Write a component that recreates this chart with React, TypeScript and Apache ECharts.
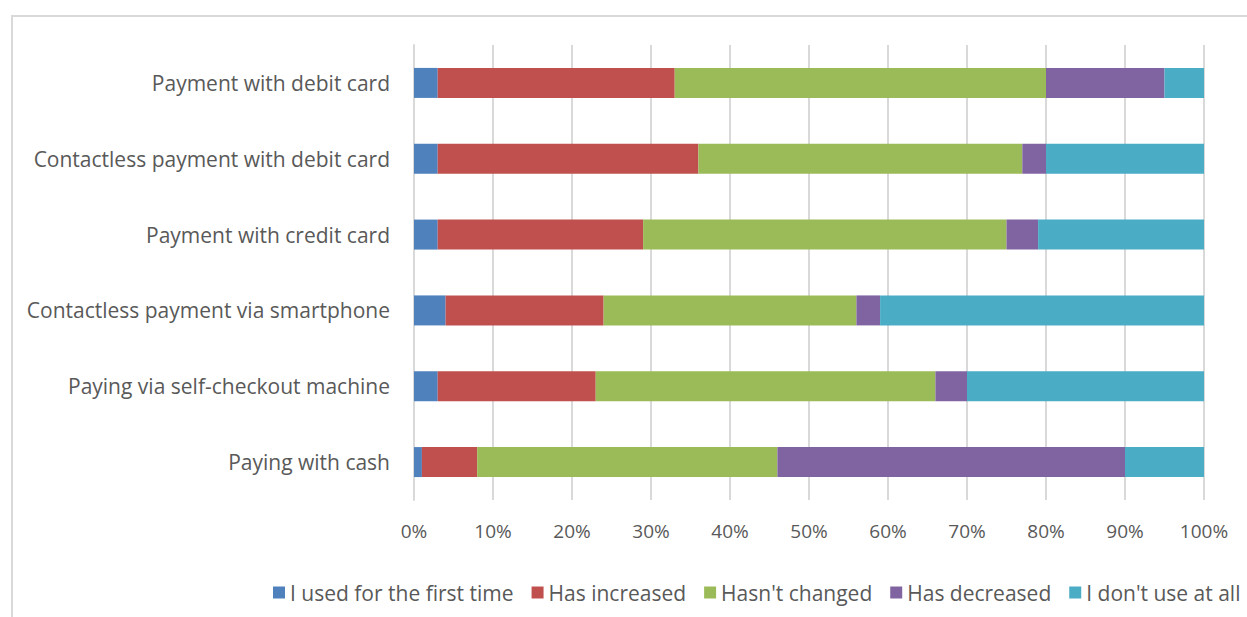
import React, { useEffect, useRef } from "react";
import * as echarts from "echarts";

const categories = [
  "Paying with cash",
  "Paying via self-checkout machine",
  "Contactless payment via smartphone",
  "Payment with credit card",
  "Contactless payment with debit card",
  "Payment with debit card",
];
const seriesNames = [
  "I used for the first time",
  "Has increased",
  "Hasn't changed",
  "Has decreased",
  "I don't use at all",
];
const firstTime = [1, 3, 4, 3, 3, 3];
const increased = [7, 20, 20, 26, 33, 30];
const unchanged = [38, 43, 32, 46, 41, 47];
const decreased = [44, 4, 3, 4, 3, 15];
const notUsed = [10, 30, 41, 21, 20, 5];
const colors = ["#4f81bd", "#c0504d", "#9bbb59", "#8064a2", "#4bacc6"];

export default function App() {
  const ref = useRef<HTMLDivElement>(null);
  useEffect(() => {
    const chart = echarts.init(ref.current!, null, { renderer: "svg" });
    const all = [firstTime, increased, unchanged, decreased, notUsed];
    const font = "'Open Sans', sans-serif";
    chart.setOption({
      animation: false,
      color: colors,
      textStyle: { fontFamily: font },
      graphic: [
        {
          type: "rect",
          shape: { x: 12, y: 16, width: 1250, height: 620 },
          style: { fill: "none", stroke: "#d9d9d9", lineWidth: 2 },
          silent: true,
        },
      ],
      grid: { left: 414, right: 43, top: 45, bottom: 117, containLabel: false },
      xAxis: {
        type: "value",
        min: 0,
        max: 100,
        interval: 10,
        axisLabel: {
          formatter: "{value}%",
          color: "#595959",
          fontSize: 19,
          fontFamily: font,
          margin: 21,
        },
        axisLine: { show: false },
        axisTick: { show: false },
        splitLine: { lineStyle: { color: "#d9d9d9", width: 2 } },
      },
      yAxis: {
        type: "category",
        data: categories,
        axisLabel: { color: "#595959", fontSize: 21, fontFamily: font, margin: 24 },
        axisLine: { show: true, lineStyle: { color: "#d9d9d9", width: 2 } },
        axisTick: { show: false },
      },
      legend: {
        left: 268,
        top: 577,
        itemWidth: 12,
        itemHeight: 12,
        itemGap: 18,
        icon: "rect",
        textStyle: { color: "#595959", fontSize: 21, fontFamily: font },
        data: seriesNames,
      },
      series: seriesNames.map((name, i) => ({
        name,
        type: "bar",
        stack: "total",
        barWidth: 30,
        data: all[i],
        itemStyle: { color: colors[i] },
      })),
    });
    return () => chart.dispose();
  }, []);
  return (
    <div
      ref={ref}
      style={{ position: "fixed", left: 0, top: 0, width: 1247, height: 617, background: "#fff" }}
    />
  );
}
